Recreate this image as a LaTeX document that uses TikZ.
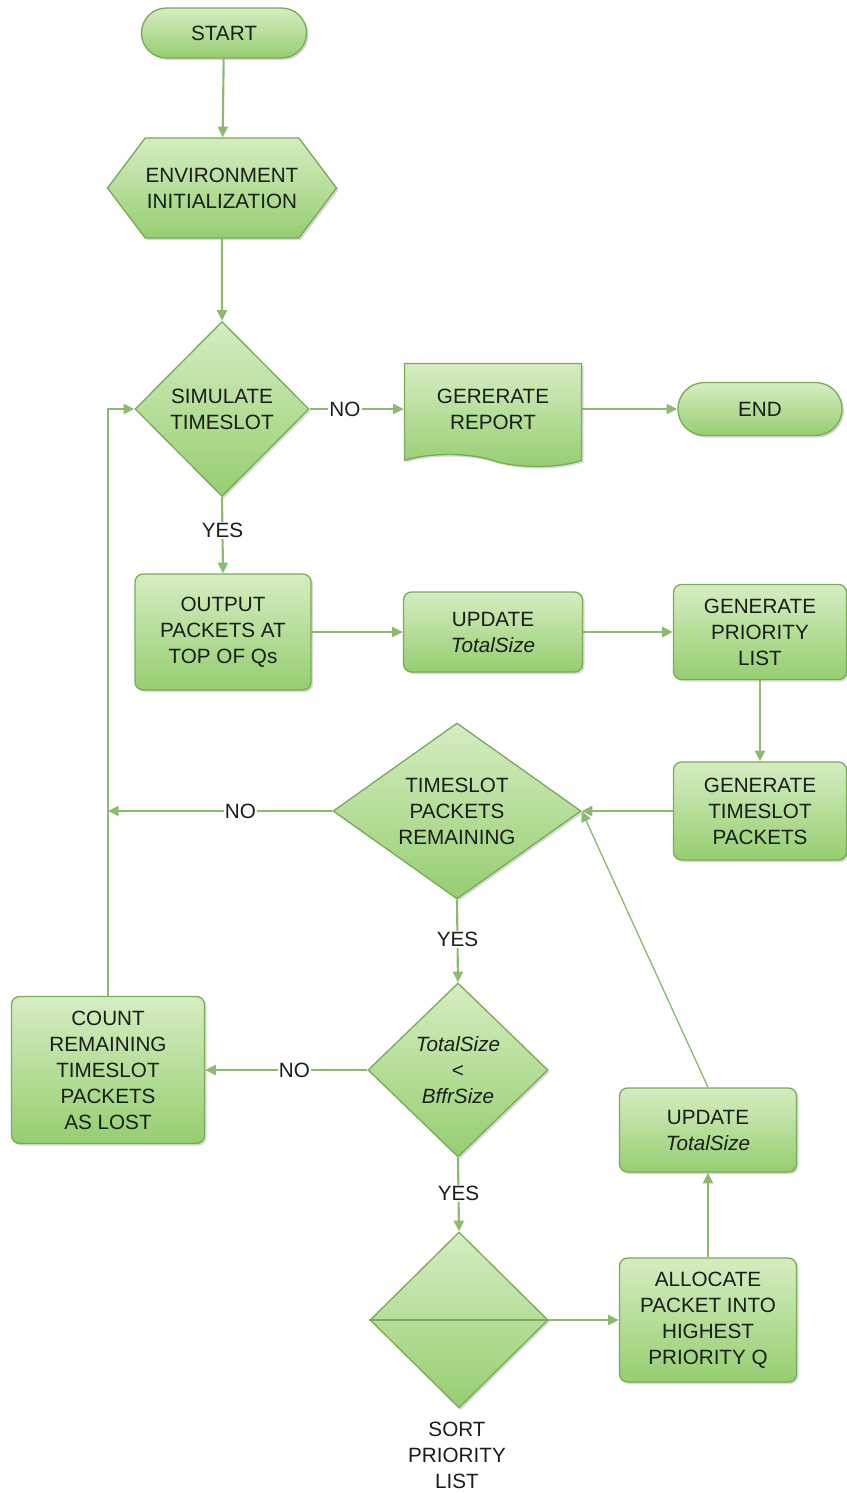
\documentclass[tikz,border=0pt]{standalone}
\usepackage{fontspec}
\setmainfont{Liberation Sans}
\usetikzlibrary{shapes.geometric,shapes.misc,shapes.symbols,shadows,arrows.meta}

\definecolor{fillTop}{RGB}{214,237,194}
\definecolor{fillBot}{RGB}{150,206,112}
\definecolor{edgeGreen}{RGB}{120,172,88}
\definecolor{lineGreen}{RGB}{140,186,112}
\definecolor{txtGray}{RGB}{25,30,25}

\tikzset{every picture/.style={line width=0.75pt}}
\tikzset{
  box/.style={draw=edgeGreen, line width=1pt, top color=fillTop, bottom color=fillBot,
    text=txtGray, align=center, font=\fontsize{15.5}{19.5}\selectfont,
    drop shadow={opacity=0.3, shadow xshift=1.5pt, shadow yshift=-1.5pt}},
  procbox/.style={box, rectangle, rounded corners=6pt},
  termbox/.style={box, rounded rectangle},
  decbox/.style={box, diamond, inner sep=0pt},
  flow/.style={draw=lineGreen, line width=1.6pt,
    -{Triangle[length=8pt,width=7.5pt]}},
  lbl/.style={fill=white, inner sep=1pt, text=txtGray, font=\fontsize{15.5}{16}\selectfont}
}

\begin{document}
\begin{tikzpicture}[x=0.75pt,y=0.75pt,yscale=-1,xscale=1]
\useasboundingbox (0,0) rectangle (846,1494);

% Terminals
\node[termbox, minimum width=174*0.75pt, minimum height=50*0.75pt] (start) at (224,33) {START};
\node[termbox, minimum width=173*0.75pt, minimum height=53*0.75pt] (end) at (760,409) {END};

% Preparation
\node[box, signal, signal to=east and west, signal pointer angle=106,
  minimum width=229*0.75pt, minimum height=100*0.75pt, inner sep=0pt] (init) at (222,188) {ENVIRONMENT\\INITIALIZATION};

% Decisions
\node[decbox, minimum width=174*0.75pt, minimum height=175*0.75pt] (sim) at (222,409) {SIMULATE\\TIMESLOT};
\node[decbox, minimum width=248*0.75pt, minimum height=176*0.75pt, shape aspect=1.41] (tsrem) at (457,811) {TIMESLOT\\PACKETS\\REMAINING};
\node[decbox, minimum width=180*0.75pt, minimum height=174*0.75pt] (cmp) at (458,1070) {\textit{TotalSize}\\<\\\textit{BffrSize}};
\node[decbox, minimum width=178*0.75pt, minimum height=176*0.75pt] (sort) at (459,1320) {};
\draw[edgeGreen, line width=1pt] (sort.west) -- (sort.east);
\node[text=txtGray, align=center, font=\fontsize{15.5}{19.5}\selectfont] (sortlbl) at (457,1455) {SORT\\PRIORITY\\LIST};

% Document
\node[box, tape, tape bend top=none, tape bend bottom=out and in, tape bend height=12*0.75pt,
  minimum width=177*0.75pt, minimum height=103*0.75pt] (report) at (493,409) {GERERATE\\REPORT};

% Processes
\node[procbox, minimum width=176*0.75pt, minimum height=116*0.75pt] (output) at (223,632) {OUTPUT\\PACKETS AT\\TOP OF Qs};
\node[procbox, minimum width=179*0.75pt, minimum height=80*0.75pt] (upd1) at (493,632) {UPDATE\\\textit{TotalSize}};
\node[procbox, minimum width=173*0.75pt, minimum height=95*0.75pt] (prio) at (760,632) {GENERATE\\PRIORITY\\LIST};
\node[procbox, minimum width=173*0.75pt, minimum height=98*0.75pt] (gen) at (760,811) {GENERATE\\TIMESLOT\\PACKETS};
\node[procbox, minimum width=193*0.75pt, minimum height=147*0.75pt] (count) at (108,1070) {COUNT\\REMAINING\\TIMESLOT\\PACKETS\\AS LOST};
\node[procbox, minimum width=177*0.75pt, minimum height=84*0.75pt] (upd2) at (708,1130) {UPDATE\\\textit{TotalSize}};
\node[procbox, minimum width=177*0.75pt, minimum height=124*0.75pt] (alloc) at (708,1320) {ALLOCATE\\PACKET INTO\\HIGHEST\\PRIORITY Q};

% Connectors
\draw[flow] (start) -- (init);
\draw[flow] (init) -- (sim);
\draw[flow] (sim.east) -- node[lbl, pos=0.375] {NO} (report.west);
\draw[flow] (report.east) -- (end.west);
\draw[flow] (sim.south) -- node[lbl, pos=0.44] {YES} (output.north);
\draw[flow] (output.east) -- (upd1.west);
\draw[flow] (upd1.east) -- (prio.west);
\draw[flow] (prio.south) -- (gen.north);
\draw[flow] (gen.west) -- (tsrem.east);
\draw[flow] (tsrem.west) -- node[lbl, pos=0.41] {NO} (tsrem.west -| count.north);
\draw[flow] (tsrem.south) -- node[lbl, pos=0.48] {YES} (cmp.north);
\draw[flow] (cmp.west) -- node[lbl, pos=0.45] {NO} (count.east);
\draw[flow] (count.north) |- (sim.west);
\draw[flow] (cmp.south) -- node[lbl, pos=0.49] {YES} (sort.north);
\draw[flow] (sort.east) -- (alloc.west);
\draw[flow] (alloc.north) -- (upd2.south);
\draw[flow, line width=1pt] (upd2.north) -- (tsrem.east);

\end{tikzpicture}
\end{document}
